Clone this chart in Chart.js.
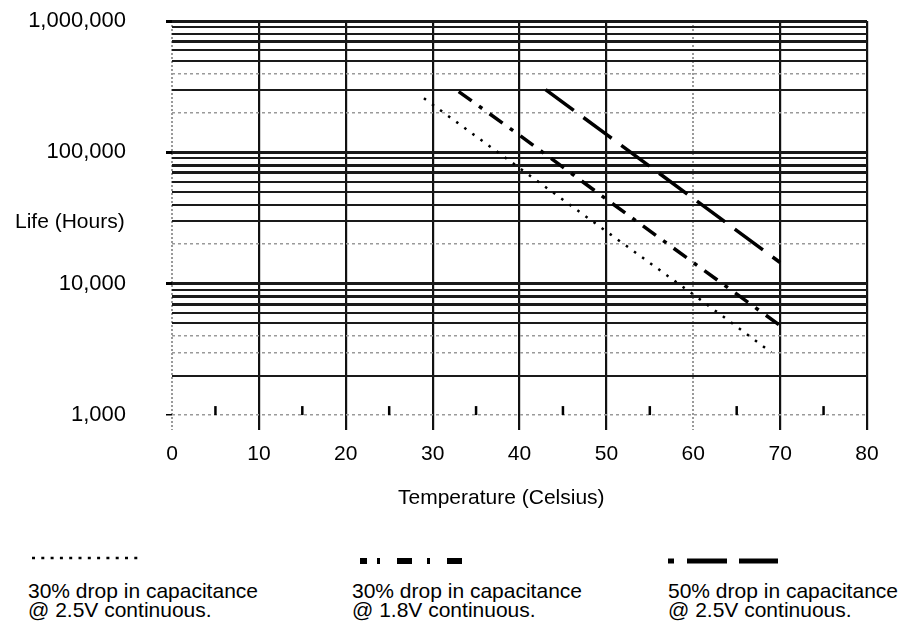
<!DOCTYPE html>
<html>
<head>
<meta charset="utf-8">
<script src="https://cdn.jsdelivr.net/npm/chart.js@4.4.1/dist/chart.umd.min.js"></script>
<style>
  body { margin: 0; background: #fff; }
  #wrap { position: relative; width: 899px; height: 624px; font-family: "Liberation Sans", Arial, sans-serif; color: #000; }
  #grafico { position: absolute; left: 0; top: 0; }
  .txt { position: absolute; font-size: 21px; white-space: nowrap; }
  .leyenda { position: absolute; font-size: 21px; line-height: 18.5px; white-space: nowrap; }
  .muestra { position: absolute; }
</style>
</head>
<body>
<div id="wrap">
  <canvas id="grafico" width="899" height="530"></canvas>
  <div class="txt" style="left:15px; top:209px;">Life (Hours)</div>
  <div class="txt" style="left:398px; top:485px;">Temperature (Celsius)</div>

  <svg class="muestra" style="left:32px; top:554px;" width="110" height="8">
    <line x1="0" y1="4" x2="106" y2="4" stroke="#000" stroke-width="2.5" stroke-dasharray="3,6.3"/>
  </svg>
  <svg class="muestra" style="left:360px; top:556px;" width="110" height="10">
    <line x1="0" y1="5" x2="106" y2="5" stroke="#000" stroke-width="6" stroke-dasharray="7,10,3,17,15,15,3,17,15"/>
  </svg>
  <svg class="muestra" style="left:668px; top:556px;" width="115" height="10">
    <line x1="0" y1="5" x2="110" y2="5" stroke="#000" stroke-width="5" stroke-dasharray="6,13,40,12,40"/>
  </svg>

  <div class="leyenda" style="left:28px; top:582px;">30% drop in capacitance<br>@ 2.5V continuous.</div>
  <div class="leyenda" style="left:352px; top:582px;">30% drop in capacitance<br>@ 1.8V continuous.</div>
  <div class="leyenda" style="left:668px; top:582px;">50% drop in capacitance<br>@ 2.5V continuous.</div>
</div>

<script>
// series: temperatura (C) y vida (horas)
const temp25v30 = [29, 40, 50, 60, 69];
const vida25v30 = [258000, 76000, 25000, 8300, 3000];

const temp18v30 = [33, 40, 50, 60, 70];
const vida18v30 = [290000, 135000, 44000, 14500, 4800];

const temp25v50 = [43, 50, 60, 70];
const vida25v50 = [300000, 137000, 44600, 14500];

// ejes
const xTicks = [0, 10, 20, 30, 40, 50, 60, 70, 80];
const xTicksMenores = [5, 15, 25, 35, 45, 55, 65, 75];
const yDecadas = [1000, 10000, 100000, 1000000];
const yEtiquetas = ['1,000', '10,000', '100,000', '1,000,000'];
const yMultiplos = [1, 2, 3, 4, 5, 6, 7, 8, 9];

const yLineas = [];
yDecadas.forEach(d => {
    if (d === 1000000) { yLineas.push(d); return; }
    yMultiplos.forEach(m => yLineas.push(d * m));
});

const lineasClaras = [1000, 3000, 4000, 20000, 200000, 400000];
const lineasGruesas = [7000, 8000, 70000, 80000, 700000];

const puntos = (xs, ys) => xs.map((x, i) => ({ x: x, y: ys[i] }));

/*
=====================================
MARCAS MENORES SOBRE 1,000
=====================================
*/
const marcasMenores = {
    id: 'marcasMenores',
    afterDatasetsDraw(chart) {
        const ctx = chart.ctx;
        const x = chart.scales.x;
        const y0 = chart.scales.y.getPixelForValue(1000);
        ctx.save();
        ctx.strokeStyle = '#000';
        ctx.lineWidth = 2.5;
        xTicksMenores.forEach(v => {
            const px = x.getPixelForValue(v);
            ctx.beginPath();
            ctx.moveTo(px, y0 - 9);
            ctx.lineTo(px, y0);
            ctx.stroke();
        });
        ctx.restore();
    }
};

new Chart(document.getElementById('grafico'), {
    type: 'line',
    data: {
        datasets: [
            {
                label: '30% drop in capacitance @ 2.5V continuous.',
                data: puntos(temp25v30, vida25v30),
                borderColor: '#000',
                borderWidth: 2.5,
                borderDash: [2.5, 7.5],
                pointRadius: 0,
                tension: 0
            },
            {
                label: '30% drop in capacitance @ 1.8V continuous.',
                data: puntos(temp18v30, vida18v30),
                borderColor: '#000',
                borderWidth: 3.5,
                borderDash: [16, 9, 4, 9],
                pointRadius: 0,
                tension: 0
            },
            {
                label: '50% drop in capacitance @ 2.5V continuous.',
                data: puntos(temp25v50, vida25v50),
                borderColor: '#000',
                borderWidth: 3.5,
                borderDash: [35, 12],
                pointRadius: 0,
                tension: 0
            }
        ]
    },
    options: {
        responsive: false,
        animation: false,
        devicePixelRatio: 1,
        layout: { padding: { top: 21, right: 32, left: 0, bottom: 0 } },
        plugins: {
            legend: { display: false },
            tooltip: { enabled: false }
        },
        scales: {
            x: {
                type: 'linear',
                min: 0,
                max: 80,
                afterBuildTicks: s => { s.ticks = xTicks.map(v => ({ value: v })); },
                afterFit: s => { s.height = 100; s.paddingLeft = 0; s.paddingRight = 0; },
                ticks: {
                    color: '#000',
                    font: { family: '"Liberation Sans", Arial, sans-serif', size: 21 },
                    padding: 12,
                    maxRotation: 0,
                    autoSkip: false
                },
                grid: {
                    color: c => (c.tick && (c.tick.value === 0 || c.tick.value === 60)) ? '#9a9a9a' : '#111',
                    lineWidth: c => (c.tick && (c.tick.value === 0 || c.tick.value === 60)) ? 2 : 2.2,
                    drawTicks: false
                },
                border: {
                    display: false,
                    dash: c => (c.tick && (c.tick.value === 0 || c.tick.value === 60)) ? [2, 2] : []
                }
            },
            y: {
                type: 'logarithmic',
                min: 770,
                max: 1000000,
                afterBuildTicks: s => { s.ticks = yLineas.map(v => ({ value: v })); },
                afterFit: s => { s.width = 172; s.paddingTop = 0; s.paddingBottom = 0; },
                ticks: {
                    color: '#000',
                    font: { family: '"Liberation Sans", Arial, sans-serif', size: 22 },
                    padding: 40,
                    autoSkip: false,
                    callback: v => {
                        const i = yDecadas.indexOf(v);
                        return i >= 0 ? yEtiquetas[i] : '';
                    }
                },
                grid: {
                    color: c => {
                        const v = c.tick ? c.tick.value : 0;
                        return lineasClaras.includes(v) ? '#9a9a9a' : '#1a1a1a';
                    },
                    lineWidth: c => {
                        const v = c.tick ? c.tick.value : 0;
                        if (lineasClaras.includes(v)) return 1.5;
                        if (yDecadas.includes(v) || lineasGruesas.includes(v)) return 3;
                        return 2;
                    },
                    tickLength: 6,
                    tickColor: c => (c.tick && yDecadas.includes(c.tick.value)) ? '#000' : 'rgba(0,0,0,0)'
                },
                border: {
                    display: false,
                    dash: c => (c.tick && lineasClaras.includes(c.tick.value)) ? [3, 3] : []
                }
            }
        }
    },
    plugins: [marcasMenores]
});
</script>
</body>
</html>
